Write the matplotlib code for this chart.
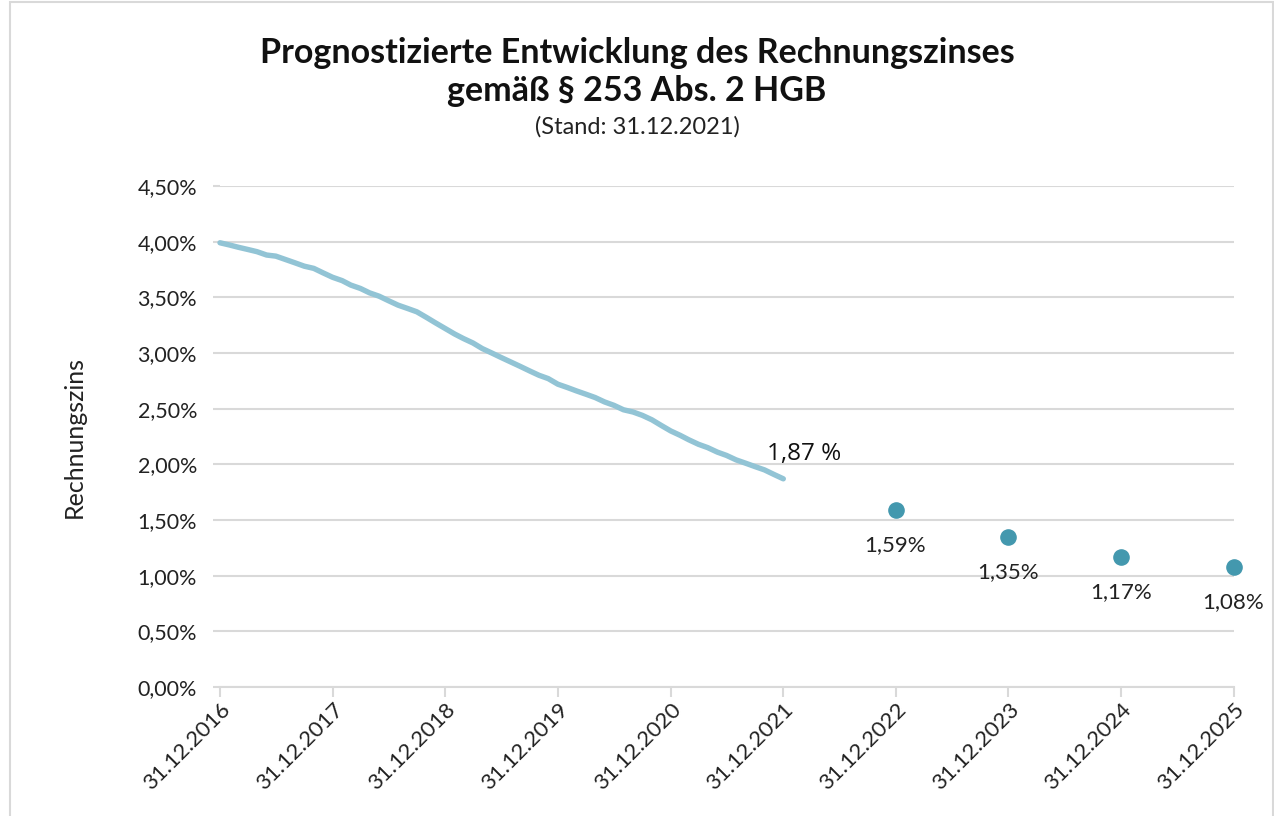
import matplotlib
matplotlib.use("Agg")
import matplotlib.pyplot as plt
import pandas as pd
from matplotlib.patches import Rectangle

# --- data ---
history_values = [
    3.99,
    3.97, 3.95, 3.93, 3.91, 3.88, 3.87, 3.84, 3.81, 3.78, 3.76, 3.72, 3.68,
    3.65, 3.61, 3.58, 3.54, 3.51, 3.47, 3.43, 3.40, 3.37, 3.32, 3.27, 3.22,
    3.17, 3.13, 3.09, 3.04, 3.00, 2.96, 2.92, 2.88, 2.84, 2.80, 2.77, 2.72,
    2.69, 2.66, 2.63, 2.60, 2.56, 2.53, 2.49, 2.47, 2.44, 2.40, 2.35, 2.30,
    2.26, 2.22, 2.18, 2.15, 2.11, 2.08, 2.04, 2.01, 1.98, 1.95, 1.91, 1.87,
]
history_dates = pd.date_range(start="2016-12-31", periods=len(history_values), freq="ME")

forecast_labels = ["31.12.2022", "31.12.2023", "31.12.2024", "31.12.2025"]
forecast_values = [1.59, 1.35, 1.17, 1.08]
forecast_dates = pd.to_datetime(forecast_labels, format="%d.%m.%Y")

tick_labels = ["31.12.2016", "31.12.2017", "31.12.2018", "31.12.2019", "31.12.2020",
               "31.12.2021", "31.12.2022", "31.12.2023", "31.12.2024", "31.12.2025"]
tick_dates = pd.to_datetime(tick_labels, format="%d.%m.%Y")
y_ticks = [0.0, 0.5, 1.0, 1.5, 2.0, 2.5, 3.0, 3.5, 4.0, 4.5]

title_text = "Prognostizierte Entwicklung des Rechnungszinses\ngemäß § 253 Abs. 2 HGB"
subtitle_text = "(Stand: 31.12.2021)"
ylabel_text = "Rechnungszins"

FONT = "Lato"
LINE_C = "#92c4d5"
DOT_C = "#4398ae"
GRID_C = "#d9d9d9"

fig = plt.figure(figsize=(12.74, 8.16), dpi=100)
fig.patches.append(Rectangle((10 / 1274, -0.01), 1 - 11 / 1274, 1.0 + 0.0075,
                             transform=fig.transFigure, fill=False,
                             edgecolor="#d9d9d9", linewidth=1.5))
ax = fig.add_axes([220 / 1274, 1 - 687 / 816, (1234 - 220) / 1274, (687 - 186) / 816])

ax.plot(history_dates, history_values, color=LINE_C, linewidth=3.9,
        solid_capstyle="round", clip_on=False, zorder=3)
ax.scatter(forecast_dates, forecast_values, s=120, color=DOT_C, zorder=4, clip_on=False)

ax.set_xlim(tick_dates[0], tick_dates[-1])
ax.set_ylim(0, 4.5)
ax.set_yticks(y_ticks)
ax.set_yticklabels([f"{v:.2f}".replace(".", ",") + "%" for v in y_ticks],
                   fontsize=15.5, fontfamily=FONT, color="#222222")
ax.set_xticks(tick_dates)
ax.set_xticklabels(tick_labels, rotation=45, ha="right", rotation_mode="anchor",
                   fontsize=16, fontfamily=FONT, color="#222222")

ax.grid(axis="y", color=GRID_C, linewidth=1.5)
ax.set_axisbelow(True)
for s in ["top", "right", "left"]:
    ax.spines[s].set_visible(False)
ax.spines["bottom"].set_color(GRID_C)
ax.spines["bottom"].set_linewidth(1.5)
ax.tick_params(axis="x", length=7, width=1.5, color=GRID_C, pad=2)
ax.tick_params(axis="y", length=5, width=1.5, color=GRID_C, pad=11.5)

ax.set_ylabel(ylabel_text, fontsize=18, fontfamily=FONT, color="#222222")
ax.yaxis.set_label_coords((86 - 220) / 1014, 0.5)

# labels
ax.annotate(f"{history_values[-1]:.2f}".replace(".", ",") + " %",
            xy=(history_dates[-1], history_values[-1]), xytext=(15, 18),
            textcoords="offset points", ha="center", va="center",
            fontsize=17.5, fontfamily="Open Sans", color="#111111")
for d, v in zip(forecast_dates, forecast_values):
    ax.annotate(f"{v:.2f}".replace(".", ",") + "%", xy=(d, v), xytext=(-0.5, -25.5),
                textcoords="offset points", ha="center", va="center",
                fontsize=16, fontfamily=FONT, color="#222222")

fig.text(0.5, 1 - 72 / 816, title_text, ha="center", va="center", fontsize=24.5,
         fontweight="bold", fontfamily=FONT, color="#111111", linespacing=1.2)
fig.text(0.5, 1 - 127 / 816, subtitle_text, ha="center", va="center", fontsize=17,
         fontfamily=FONT, color="#222222")

fig.savefig("out.png", dpi=100)
